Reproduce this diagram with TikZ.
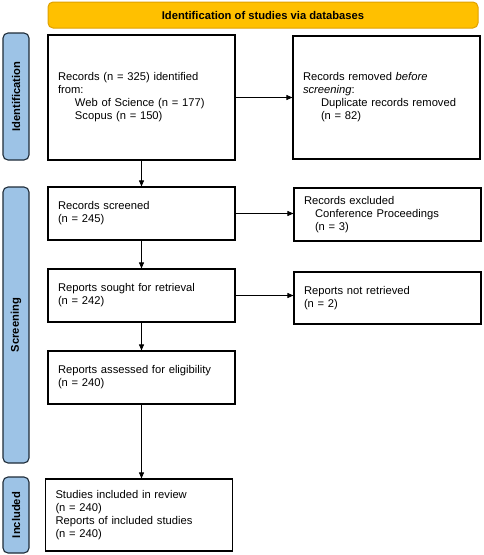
\documentclass[tikz,border=0pt]{standalone}
\usepackage{fontspec}
\setmainfont{Liberation Sans}
\usetikzlibrary{arrows.meta}
\definecolor{phaseblue}{HTML}{9DC3E6}
\definecolor{phaseline}{HTML}{1E2B38}
\definecolor{headfill}{HTML}{FFC000}
\definecolor{headline}{HTML}{E0A100}
\tikzset{
  box/.style={draw, line width=1.1pt, minimum width=187pt, text width=167pt,
    inner xsep=10pt, inner ysep=3pt, align=left,
    font=\fontsize{11.2}{13}\selectfont},
  phase/.style={draw=phaseline, fill=phaseblue, line width=1.1pt, rounded corners=5pt,
    rotate=90, minimum height=26pt, font=\bfseries\fontsize{11.2}{13}\selectfont},
  >={Triangle[length=6pt,width=5pt]}
}

\begin{document}
\begin{tikzpicture}[x=1pt,y=-1pt]
      \useasboundingbox (0,0) rectangle (484,555);

      \node[draw=headline, fill=headfill, rounded corners=5pt, line width=1pt,
        minimum width=430pt, minimum height=26pt,
        font=\bfseries\fontsize{11.2}{13}\selectfont] (head) at (263,15)
        {Identification of studies via databases};

      \node[phase, minimum width=127pt] (ident) at (16,96.5) {Identification};
      \node[phase, minimum width=276pt] (screen) at (16,325) {Screening};
      \node[phase, minimum width=76pt] (incl) at (16,515) {Included};

      \node[box, minimum height=125pt] (1) at (141.5,97.5)
        {Records (n = 325) identified\\from:\\\hspace*{17pt}Web of Science (n = 177)\\\hspace*{17pt}Scopus (n = 150)};
      \node[box, minimum height=123pt] (2) at (386.5,97.5)
        {Records removed \textit{before}\\\textit{screening}:\\\hspace*{18pt}Duplicate records removed\\\hspace*{18pt}(n = 82)};
      \node[box, minimum height=53pt] (3) at (141.5,213.5) {Records screened\\(n = 245)};
      \node[box, minimum height=53pt] (4) at (387.5,214.5)
        {Records excluded\\\hspace*{11pt}Conference Proceedings\\\hspace*{11pt}(n = 3)};
      \node[box, minimum height=53pt] (5) at (141.5,295.5) {Reports sought for retrieval\\(n = 242)};
      \node[box, minimum height=52pt] (6) at (387.5,298) {Reports not retrieved\\(n = 2)};
      \node[box, minimum height=53pt] (7) at (141.5,377.5) {Reports assessed for eligibility\\(n = 240)};
      \node[box, minimum height=72pt] (8) at (139,515)
        {Studies included in review\\(n = 240)\\Reports of included studies\\(n = 240)};

      \draw[->, line width=0.8pt] (1) -- (2);
      \draw[->, line width=0.8pt] (1) -- (3);
      \draw[->, line width=0.8pt] (3.east) -- (3.east -| 4.west);
      \draw[->, line width=0.8pt] (3) -- (5);
      \draw[->, line width=0.8pt] (5.east) -- (5.east -| 6.west);
      \draw[->, line width=0.8pt] (5) -- (7);
      \draw[->, line width=0.8pt] (7.south) -- (7.south |- 8.north);
    \end{tikzpicture}
\end{document}
